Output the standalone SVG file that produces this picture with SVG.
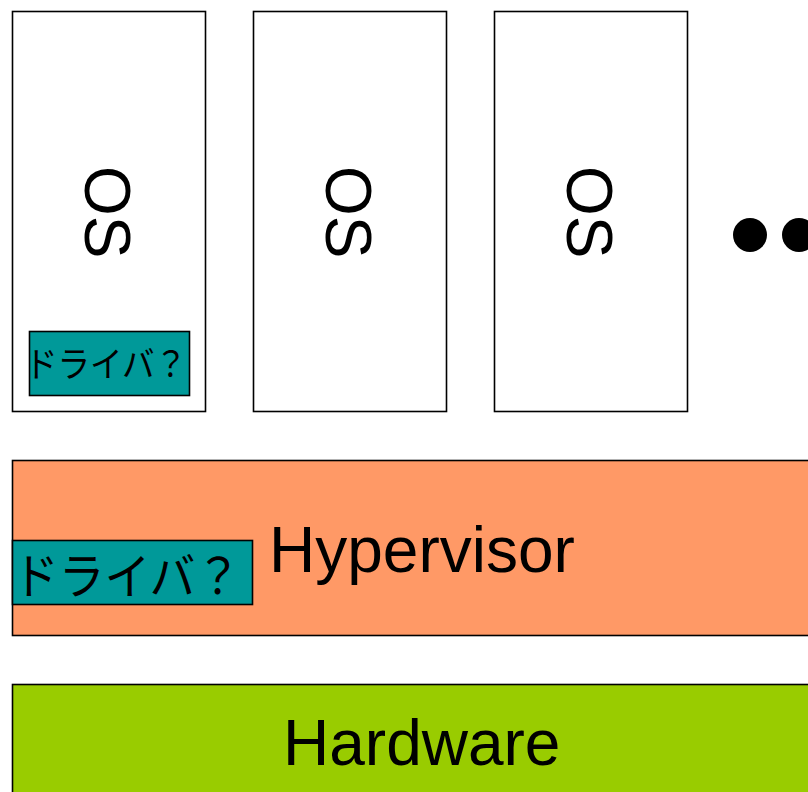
<svg xmlns="http://www.w3.org/2000/svg" width="808" height="792" viewBox="0 0 808 792">
<style>
.box{stroke:#000;stroke-width:1.6}
.os{fill:#fff}
.lbl{font-family:"Liberation Sans",Arial,sans-serif;font-size:64px;fill:#000}
.jp{font-family:"Noto Sans CJK JP","Liberation Sans",sans-serif;fill:#000}
.drv{fill:#009999}
</style>
<rect width="808" height="792" fill="#fff"/>
<g id="os1">
<rect class="box os" x="12.5" y="11.5" width="193" height="400"/>
<text class="lbl" transform="translate(85,166) rotate(90)">OS</text>
</g>
<g id="driver1">
<rect class="box drv" x="29.5" y="331.5" width="160" height="64"/>
<text class="jp" x="25" y="377" font-size="35" textLength="162" lengthAdjust="spacingAndGlyphs">ドライバ？</text>
</g>
<g id="os2">
<rect class="box os" x="253.5" y="11.5" width="193" height="400"/>
<text class="lbl" transform="translate(326,166) rotate(90)">OS</text>
</g>
<g id="os3">
<rect class="box os" x="494.5" y="11.5" width="193" height="400"/>
<text class="lbl" transform="translate(567,166) rotate(90)">OS</text>
</g>
<g id="more">
<circle cx="750" cy="235" r="17" fill="#000"/>
<circle cx="799" cy="235" r="17" fill="#000"/>
</g>
<g id="hypervisor">
<rect class="box" fill="#FF9966" x="12.5" y="460.5" width="830" height="175"/>
<text class="lbl" x="269" y="572">Hypervisor</text>
</g>
<g id="driver2">
<rect class="box drv" x="12.5" y="540.5" width="240" height="64"/>
<text class="jp" x="13" y="594" font-size="49" textLength="228" lengthAdjust="spacingAndGlyphs">ドライバ？</text>
</g>
<g id="hardware">
<rect class="box" fill="#99CC00" x="12.5" y="684.5" width="830" height="140"/>
<text class="lbl" x="283" y="765">Hardware</text>
</g>
<g id="connectors"></g>
</svg>
